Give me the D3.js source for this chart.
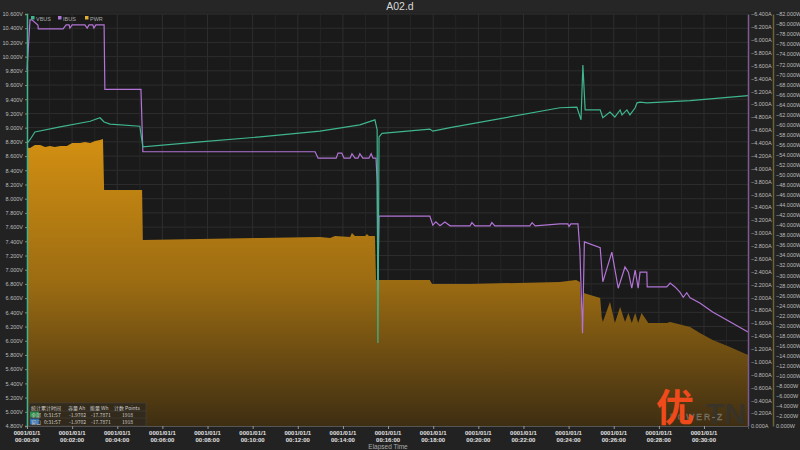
<!DOCTYPE html>
<html><head><meta charset="utf-8">
<script src="https://cdn.jsdelivr.net/npm/d3@7/dist/d3.min.js"></script>
<style>
html,body{margin:0;padding:0;background:#222;}
svg{display:block;font-family:"Liberation Sans",Arial,sans-serif;}
</style></head>
<body>
<svg id="c" width="800" height="450"></svg>
<script>
// ---- data (time in seconds) ----
const vbusT = [0,8,21,88,168,194,205,221,300,308,460,620,779,885,925,931,933,936,944,1071,1079,1125,1417,1462,1473,1478,1484,1524,1531,1550,1563,1577,1582,1595,1603,1617,1622,1630,1648,1763,1917];
const vbusV = [8.78,8.83,8.94,9.01,9.09,9.14,9.08,9.05,9.02,8.73,8.80,8.87,8.95,9.04,9.11,8.97,5.97,8.87,8.92,8.98,8.95,9.00,9.28,9.29,9.11,9.88,9.25,9.25,9.14,9.22,9.15,9.25,9.18,9.25,9.18,9.28,9.35,9.36,9.35,9.38,9.45];

const ibusT = [0,8,13,29,30,96,104,112,114,120,154,160,165,175,178,183,205,207,303,308,766,774,822,827,837,843,859,864,872,880,885,893,909,915,920,928,931,933,936,1071,1079,1087,1098,1111,1125,1178,1183,1191,1231,1236,1244,1337,1343,1351,1417,1438,1441,1446,1465,1470,1477,1482,1524,1531,1555,1572,1590,1599,1608,1617,1625,1630,1648,1649,1701,1710,1723,1736,1745,1754,1763,1789,1823,1869,1917];
const ibusA = [-5.53,-6.31,-6.31,-6.23,-6.17,-6.17,-6.23,-6.23,-6.18,-6.23,-6.23,-6.18,-6.23,-6.23,-6.18,-6.23,-6.23,-5.23,-5.23,-4.26,-4.26,-4.16,-4.16,-4.24,-4.24,-4.16,-4.16,-4.23,-4.16,-4.16,-4.23,-4.16,-4.16,-4.23,-4.16,-4.16,-3.79,-2.11,-3.26,-3.26,-3.12,-3.17,-3.11,-3.17,-3.11,-3.11,-3.16,-3.11,-3.11,-3.16,-3.11,-3.11,-3.16,-3.11,-3.14,-3.14,-3.10,-3.14,-3.14,-2.73,-1.44,-2.86,-2.77,-2.24,-2.70,-2.14,-2.47,-2.39,-2.14,-2.42,-2.14,-2.39,-2.39,-2.16,-2.16,-2.22,-2.16,-2.08,-2.00,-2.07,-1.99,-1.91,-1.77,-1.62,-1.46];

const pwrT = [2,8,21,35,48,61,74,88,106,120,141,154,168,181,194,202,205,306,308,460,620,779,806,819,859,864,872,899,904,909,925,928,1071,1077,1178,1417,1460,1470,1476,1480,1524,1528,1531,1550,1563,1577,1590,1599,1608,1617,1625,1634,1652,1701,1710,1763,1789,1823,1869,1917];
const pwrW = [-55.4,-55.34,-55.92,-55.92,-55.52,-55.72,-55.52,-55.72,-55.72,-56.32,-56.32,-56.52,-56.32,-56.72,-56.92,-57.12,-46.98,-46.98,-37.02,-37.22,-37.42,-37.62,-37.42,-37.82,-37.62,-38.42,-37.82,-37.82,-38.2,-37.82,-37.82,-29.06,-29.06,-28.26,-28.26,-28.66,-29.06,-28.66,-19.1,-26.48,-25.48,-21.7,-20.7,-24.68,-20.5,-23.68,-20.7,-22.5,-20.5,-22.5,-20.5,-22.5,-20.5,-20.5,-20.7,-19.7,-18.52,-17.12,-15.72,-14.14];

const seriesNames = ["VBUS","IBUS","PWR"];
const seriesColors = ["#3fb58d","#b274d6","#e0b030"];
const timeTicks = [0,120,240,360,480,600,720,840,960,1080,1200,1320,1440,1560,1680,1800];
const voltTicks = d3.range(0,30).map(i => +(4.8 + i*0.2).toFixed(1));
const ampTicks = d3.range(0,33).map(i => +(-i*0.2).toFixed(1));
const wattTicks = d3.range(0,42).map(i => -i*2);
const tableHeader = ["统计","累计时间","容量 Ah","能量 Wh","计数 Points"];
const tableRows = [["全部","0:31:57","-1.9702","-17.7871","1918"],["窗口","0:31:57","-1.9702","-17.7871","1918"]];
const title = "A02.d";

// ---- layout ----
const L = 27, R = 748, T = 14, B = 426, R2 = 773;
const svg = d3.select("#c");
const x = d3.scaleLinear().domain([0,1917]).range([L,R]);
const yV = d3.scaleLinear().domain([4.8,10.6]).range([B,T]);
const yA = d3.scaleLinear().domain([0,-6.4]).range([B,T]);
const yW = d3.scaleLinear().domain([0,-82]).range([B,T]);

svg.append("rect").attr("width",800).attr("height",450).attr("fill","#222");
svg.append("rect").attr("width",800).attr("height",12).attr("fill","#262626");
svg.append("rect").attr("x",L).attr("y",T).attr("width",R-L).attr("height",B-T).attr("fill","#1a1a1a");

svg.append("text").attr("x",400).attr("y",10).attr("text-anchor","middle")
  .attr("font-size",10.5).attr("fill","#d8d8d8").text(title);

// grid
const g = svg.append("g");
g.selectAll("line.h").data(voltTicks).join("line")
  .attr("x1",L).attr("x2",R).attr("y1",d=>yV(d)).attr("y2",d=>yV(d))
  .attr("stroke","#2e2e2e").attr("stroke-width",1);
g.selectAll("line.v").data(d3.range(0,1917,60)).join("line")
  .attr("x1",d=>x(d)).attr("x2",d=>x(d)).attr("y1",T).attr("y2",B)
  .attr("stroke",(d,i)=> i%2===0 ? "#2e2e2e" : "#262626").attr("stroke-width",1);

// gradient
const defs = svg.append("defs");
const grad = defs.append("linearGradient").attr("id","pg").attr("gradientUnits","userSpaceOnUse")
  .attr("x1",0).attr("x2",0).attr("y1",T).attr("y2",B);
grad.append("stop").attr("offset","0%").attr("stop-color","#e8a010");
grad.append("stop").attr("offset","32%").attr("stop-color","#d08e12");
grad.append("stop").attr("offset","65%").attr("stop-color","#9c6c12");
grad.append("stop").attr("offset","100%").attr("stop-color","#3e2e12");

const pwrData = pwrT.map((t,i)=>[t,pwrW[i]]);
svg.append("path").datum(pwrData)
  .attr("d", d3.area().x(d=>x(d[0])).y0(yW(0)).y1(d=>yW(d[1])))
  .attr("fill","url(#pg)");

const ibusData = ibusT.map((t,i)=>[t,ibusA[i]]);
svg.append("path").datum(ibusData)
  .attr("d", d3.line().x(d=>x(d[0])).y(d=>yA(d[1])))
  .attr("fill","none").attr("stroke",seriesColors[1]).attr("stroke-width",1.2);

const vbusData = vbusT.map((t,i)=>[t,vbusV[i]]);
svg.append("path").datum(vbusData)
  .attr("d", d3.line().x(d=>x(d[0])).y(d=>yV(d[1])))
  .attr("fill","none").attr("stroke",seriesColors[0]).attr("stroke-width",1.2);

// axes
const fs = 5.5;
const axL = svg.append("g").attr("transform",`translate(${L},0)`)
  .call(d3.axisLeft(yV).tickValues(voltTicks).tickSize(2).tickPadding(2).tickFormat(d=>d3.format(".3f")(d)+"V"));
const axA = svg.append("g").attr("transform",`translate(${R},0)`)
  .call(d3.axisRight(yA).tickValues(ampTicks).tickSize(0).tickPadding(3).tickFormat(d=>d3.format(".3f")(d)+"A"));
const axW = svg.append("g").attr("transform",`translate(${R2},0)`)
  .call(d3.axisRight(yW).tickValues(wattTicks).tickSize(0).tickPadding(3).tickFormat(d=>d3.format(".3f")(d)+"W"));
[axL,axA,axW].forEach(a=>{
  a.selectAll("text").attr("font-size",fs).attr("fill","#bdbdbd").attr("font-family","Liberation Sans, Arial, sans-serif");
  a.selectAll(".tick line").attr("stroke","#888");
});
axL.select(".domain").attr("stroke",seriesColors[0]).attr("stroke-width",1.5);
axA.select(".domain").attr("stroke","#7e5a90").attr("stroke-width",1.5);
axW.select(".domain").attr("stroke","#6e6238").attr("stroke-width",1.5);

const axX = svg.append("g").attr("transform",`translate(0,${B})`)
  .call(d3.axisBottom(x).tickValues(timeTicks).tickSize(3).tickFormat(""));
axX.select(".domain").attr("stroke","#555");
axX.selectAll(".tick line").attr("stroke","#999");
const fmtT = s => "00:" + String(Math.floor(s/60)).padStart(2,"0") + ":" + String(s%60).padStart(2,"0");
const xl = svg.append("g").selectAll("text").data(timeTicks).join("text")
  .attr("x",d=>x(d)).attr("y",434.5).attr("text-anchor","middle")
  .attr("font-size",6).attr("font-weight","bold").attr("fill","#e0e0e0");
xl.append("tspan").attr("x",d=>x(d)).attr("dy",0).text("0001/01/1");
xl.append("tspan").attr("x",d=>x(d)).attr("dy",7).text(d=>fmtT(d));
svg.append("text").attr("x",388).attr("y",449).attr("text-anchor","middle")
  .attr("font-size",6.5).attr("fill","#aaa").text("Elapsed Time");

// legend
const lg = svg.append("g").attr("transform","translate(31,19)");
const lx = [0,27,54];
seriesNames.forEach((n,i)=>{
  lg.append("rect").attr("x",lx[i]).attr("y",-3).attr("width",3.5).attr("height",3.5).attr("fill",seriesColors[i]);
  lg.append("text").attr("x",lx[i]+5).attr("y",1.5).attr("font-size",5.5).attr("fill","#a8a8a8").text(n);
});

// stats table
const tb = svg.append("g");
tb.append("rect").attr("x",29).attr("y",403).attr("width",117).attr("height",23).attr("fill","rgba(45,40,30,0.8)").attr("stroke","#4a4a4a").attr("stroke-width",0.5);
const colX = [31,41,68,90,114];
const cellX = [31,44,69,91,122];
const rowY = [409.5,416.5,423.5];
tb.append("rect").attr("x",30).attr("y",411.5).attr("width",9).attr("height",6).attr("fill","#2f8f4a");
tb.append("rect").attr("x",30).attr("y",418.5).attr("width",9).attr("height",6).attr("fill","#2e6fb0");
[tableHeader, ...tableRows].forEach((row,ri)=>{
  row.forEach((c,ci)=>{
    tb.append("text").attr("x", ri>0 ? cellX[ci] : colX[ci]).attr("y",rowY[ri])
      .attr("font-size",5).attr("fill","#d0d0d0")
      .attr("font-family","Noto Sans CJK SC, Liberation Sans, sans-serif").text(c);
  });
});
[411,418].forEach(yy=>tb.append("line").attr("x1",29).attr("x2",146).attr("y1",yy).attr("y2",yy).attr("stroke","#4a4a4a").attr("stroke-width",0.5));

// watermark
const wm = svg.append("g");
wm.append("text").attr("x",706).attr("y",424).attr("font-size",30).attr("font-weight","bold")
  .attr("fill","#333").attr("fill-opacity",0.7).attr("font-family","Liberation Sans, Arial").text("TN");
wm.append("text").attr("x",670).attr("y",420).attr("font-size",8.5).attr("letter-spacing",2)
  .attr("fill","none").attr("stroke","#8a8a8a").attr("stroke-width",0.5).attr("stroke-opacity",0.8)
  .attr("font-family","Liberation Sans, Arial").text("POWER-Z");
wm.append("text").attr("x",656).attr("y",421).attr("font-size",38).attr("font-weight","bold")
  .attr("fill","#ee4a1c").attr("font-family","Noto Sans CJK SC, sans-serif").text("优");
</script>
</body></html>
